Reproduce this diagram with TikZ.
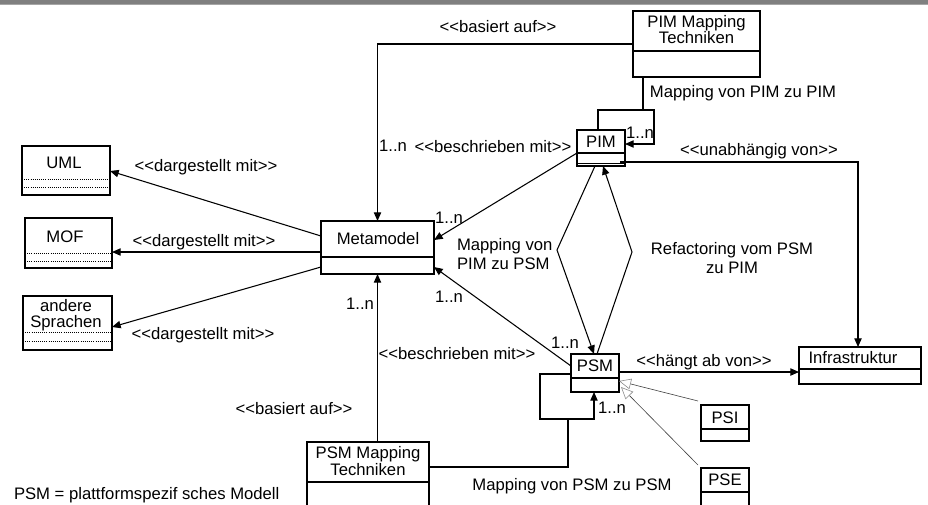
\documentclass[tikz,border=0pt]{standalone}
\usepackage{fontspec}
\setmainfont{Liberation Sans}[Ligatures=TeXOff]
\usetikzlibrary{arrows.meta}
\newcommand\umlbox[6]{%
  \node[box, anchor=north west, minimum width={(#4-#2)*0.75pt}, minimum height={(#5-#3)*0.75pt}] (#1) at (#2,#3) {};
  \draw[boxline] (#1.west |- 0,#6) -- (#1.east |- 0,#6);}
\begin{document}
\begin{tikzpicture}[x=0.75pt,y=-0.75pt,
  font=\fontsize{12.5}{12}\selectfont,
  box/.style={draw, line width=1.1pt, inner sep=0pt, outer sep=0pt},
  boxline/.style={line width=1.1pt},
  ln/.style={line width=0.8pt},
  arr/.style={ln, -{Triangle[length=6.5pt,width=5.5pt]}},
  gen/.style={line width=0.45pt, draw=black!75, -{Triangle[open, length=9pt, width=8pt, fill=white, color=black!45]}},
  lbl/.style={inner sep=0pt, outer sep=0pt},
  dots/.style={line width=0.6pt, densely dotted}]
\useasboundingbox (0,0) rectangle (928,504);
\clip (0,0) rectangle (928,504);
% top bar
\fill[black!50] (0,0) rectangle (928,5);
\fill[black!35] (0,4) rectangle (928,5);

% boxes
\umlbox{pimmap}{633}{11}{760}{77}{51}
\node[lbl, align=center, font=\fontsize{12.5}{12}\selectfont] (tpimmap) at (696.5,30) {PIM Mapping\\Techniken};
\umlbox{pim}{577}{130}{625}{166}{153}
\draw[boxline] (pim.west |- 0,163.5) -- (pim.east |- 0,163.5);
\node[lbl] (tpim) at (601,142) {PIM};
\umlbox{meta}{321}{221}{434}{274}{257}
\node[lbl] (tmeta) at (378,239) {Metamodel};
\umlbox{psm}{571}{354}{619}{392}{378}
\node[lbl] (tpsm) at (595,366) {PSM};
\umlbox{infra}{799}{347}{921}{384}{369}
\node[lbl] (tinfra) at (853,358) {Infrastruktur};
\umlbox{psi}{701}{405}{749}{441}{429}
\node[lbl] (tpsi) at (725,418) {PSI};
\umlbox{pse}{701}{468}{749}{512}{492}
\node[lbl] (tpse) at (725,480) {PSE};
\umlbox{psmmap}{307}{442}{429}{512}{482}
\node[lbl, align=center, font=\fontsize{12.5}{10.5}\selectfont] (tpsmmap) at (368,461) {PSM Mapping\\Techniken};

% left boxes
\node[box, anchor=north west, minimum width={88*0.75pt}, minimum height={49*0.75pt}] (uml) at (22,146) {};
\draw[dots] (uml.west |- 0,179) -- (uml.east |- 0,179);
\draw[dots] (uml.west |- 0,187) -- (uml.east |- 0,187);
\node[lbl] (tuml) at (64,163) {UML};
\node[box, anchor=north west, minimum width={87*0.75pt}, minimum height={50*0.75pt}] (mof) at (25,218) {};
\draw[dots] (mof.west |- 0,253) -- (mof.east |- 0,253);
\draw[dots] (mof.west |- 0,261) -- (mof.east |- 0,261);
\node[lbl] (tmof) at (65,237) {MOF};
\node[box, anchor=north west, minimum width={89*0.75pt}, minimum height={54*0.75pt}] (andere) at (23,296) {};
\draw[dots] (andere.west |- 0,332) -- (andere.east |- 0,332);
\draw[dots] (andere.west |- 0,341) -- (andere.east |- 0,341);
\node[lbl, align=center, font=\fontsize{12.5}{12}\selectfont] (tandere) at (66,315) {andere\\Sprachen};

% connectors
\draw[arr] (pimmap.west) -| (meta.north);
\node[lbl] (l1) at (498,27) {<<basiert auf>>};
\draw[ln] (pimmap.south -| 643,0) -- (643,110);
\draw[arr] (pim.north -| 598,0) -- (598,110) -- (654,110) -- (654,144) -- (pim.east |- 0,144);
\node[lbl] (l2) at (743,93) {Mapping von PIM zu PIM};
\node[lbl] (l3) at (640,133) {1..n};
\draw[arr] (pim.west |- 0,153) -- (meta.east |- 0,240);
\node[lbl] (l4) at (449,218) {1..n};
\node[lbl] (l5) at (493,147) {<<beschrieben mit>>};
\node[lbl] (l6) at (393,146) {1..n};
\draw[arr] (pim.east |- 0,162) ++(-5,0) -- (858,162) -- (infra.north -| 858,0);
\node[lbl] (l7) at (759,151) {<<unabhängig von>>};
% diamond
\draw[arr] (pim.south -| 595,0) -- (557,250) -- (psm.north -| 594,0);
\draw[arr] (psm.north -| 597,0) -- (632,252) -- (pim.south -| 603,0);
\node[lbl, align=left, anchor=west, font=\fontsize{12.5}{14.3}\selectfont] (l8) at (457,254.5) {Mapping von\\PIM zu PSM};
\node[lbl, align=center, font=\fontsize{12.5}{14.3}\selectfont] (l9) at (732,258.5) {Refactoring vom PSM\\zu PIM};
% psm to meta
\draw[arr] (psm.west |- 0,366) -- (meta.east |- 0,267);
\node[lbl] (l10) at (449,297) {1..n};
\node[lbl] (l11) at (565,343) {1..n};
% psmmap to meta
\draw[arr] (psmmap.north -| meta.south) -- (meta.south);
\node[lbl] (l12) at (360,304) {1..n};
\node[lbl] (l13) at (457,354) {<<beschrieben mit>>};
\node[lbl] (l14) at (294,409) {<<basiert auf>>};
% psm self loop
\draw[arr] (psm.west |- 0,374) -- (540,374) -- (540,419) -- (594,419) -- (psm.south -| 594,0);
\draw[ln] (psmmap.east |- 0,467) -- (568,467) -- (568,419);
\node[lbl] (l15) at (612,408) {1..n};
\node[lbl] (l16) at (572,486) {Mapping von PSM zu PSM};
% psm to infra
\draw[arr] (psm.east |- 0,372) -- (infra.west |- 0,372);
\node[lbl] (l17) at (704,362) {<<hängt ab von>>};
% generalizations
\draw[gen] (psi.north west) ++(-3,-4) -- (619,381);
\draw[gen] (pse.north west) ++(-3,-3) -- (621,387);
% left arrows
\draw[arr] (meta.west |- 0,236) -- (uml.east |- 0,171);
\draw[arr] (meta.west |- 0,252) -- (mof.east |- 0,252);
\draw[arr] (meta.west |- 0,267) -- (andere.east |- 0,327);
\node[lbl] (l18) at (206,167) {<<dargestellt mit>>};
\node[lbl] (l19) at (204,242) {<<dargestellt mit>>};
\node[lbl] (l20) at (203,335) {<<dargestellt mit>>};
% footnote
\node[lbl, anchor=base west] (fn) at (14,499.5) {PSM = plattformspezif sches Modell};
\end{tikzpicture}
\end{document}
